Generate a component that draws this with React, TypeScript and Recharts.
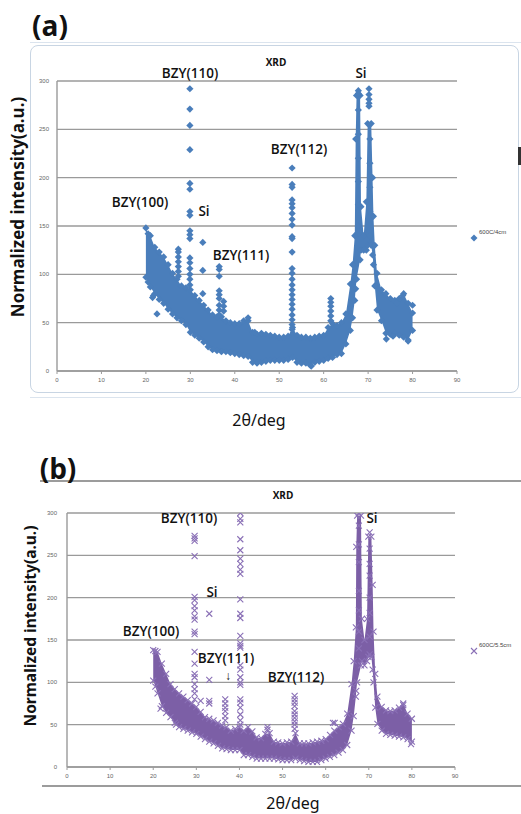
import { ComposedChart, Area, Scatter, XAxis, YAxis, CartesianGrid } from 'recharts';

const xTicks = [0, 10, 20, 30, 40, 50, 60, 70, 80, 90];
const yTicks = [0, 50, 100, 150, 200, 250, 300];

// (a) 600C/4cm — dense cloud read as [2θ, low, high]
const aBand: [number, number, number][] = [
  [20, 97, 148], [20.5, 92, 142], [21, 87, 140], [22, 80, 128], [23, 74, 123], [24, 70, 118],
  [25, 64, 110], [26, 59, 101], [27, 55, 95], [28, 52, 88], [29, 48, 86], [30, 40, 84],
  [31, 37, 78], [32, 34, 73], [33, 30, 68], [34, 25, 63], [35, 22, 58], [36, 21, 56],
  [37, 20, 56], [38, 20, 52], [39, 19, 50], [40, 18, 49], [41, 17, 49], [42, 16, 52],
  [43, 15, 52], [44, 9, 40], [45, 8, 38], [46, 9, 39], [47, 10, 38], [48, 11, 37],
  [49, 11, 36], [50, 11, 35], [51, 11, 35], [52, 12, 36], [53, 14, 45], [54, 9, 37],
  [55, 8, 35], [56, 8, 35], [57, 6, 34], [58, 9, 35], [59, 10, 36], [60, 11, 37],
  [61, 13, 45], [62, 14, 49], [63, 17, 47], [64, 18, 50], [65, 28, 59], [66, 42, 90],
  [66.5, 55, 110], [67, 73, 140], [67.2, 85, 240], [67.4, 95, 285], [68.2, 115, 285],
  [68.4, 125, 170], [69, 125, 140], [69.6, 125, 175], [69.9, 130, 256], [70.7, 130, 256],
  [71, 120, 200], [71.2, 110, 160], [71.5, 88, 130], [72, 63, 101],
  [73, 52, 84], [74, 39, 80], [75, 38, 75], [76, 39, 73], [77, 37, 75], [78, 35, 80],
  [79, 32, 70], [80, 42, 60],
];

// (a) peak columns: [2θ, intensities]
const aPeaks: [number, number[]][] = [
  [27.3, [126, 123, 118, 113, 108, 103, 98]],
  [29.9, [292, 271, 254, 229, 194, 188, 165, 161, 145, 141, 137, 117, 112, 106, 100, 95, 89]],
  [32.8, [133, 104, 80]],
  [36.5, [108, 105, 98, 83, 79, 75, 68, 63, 58]],
  [37.5, [72, 67, 62]],
  [52.9, [210, 193, 190, 177, 173, 169, 163, 157, 151, 139, 137, 123, 106, 101, 95, 89, 84, 79, 74, 69, 64, 58, 53, 48, 43]],
  [61.6, [75, 71, 67, 62, 57, 52]],
  [67.8, [290, 287, 270, 245, 220, 196, 172, 150]],
  [70.2, [292, 286, 281, 277, 274]],
  [70.4, [240, 215, 190, 165, 140]],
];

const aStray: [number, number][] = [
  [22.5, 59], [21.7, 78], [21.5, 76], [74.1, 33], [75.6, 36], [79, 31],
  [77.8, 78], [76.5, 70], [80, 68], [44.5, 40], [43, 55], [57.2, 5],
];

// (b) 600C/5.5cm
const bBand: [number, number, number][] = [
  [20, 102, 138], [20.5, 95, 137], [21, 87, 136], [22, 72, 122], [23, 64, 110], [24, 59, 98],
  [25, 52, 92], [26, 47, 87], [27, 45, 83], [28, 43, 79], [29, 41, 75], [30, 39, 71],
  [31, 36, 65], [32, 33, 59], [33, 30, 57], [34, 28, 55], [35, 25, 52], [36, 22, 49],
  [37, 21, 47], [38, 20, 43], [39, 20, 45], [40, 20, 47], [41, 14, 43], [42, 14, 47],
  [43, 12, 42], [44, 10, 35], [45, 10, 34], [46, 10, 39], [47, 10, 40], [48, 10, 30],
  [49, 9, 29], [50, 8, 28], [51, 8, 29], [52, 8, 30], [53, 10, 40], [54, 8, 28],
  [55, 7, 28], [56, 6, 28], [57, 6, 29], [58, 6, 30], [59, 8, 31], [60, 10, 33],
  [61, 12, 38], [62, 14, 43], [63, 17, 47], [64, 20, 51], [65, 26, 63], [66, 43, 98],
  [66.5, 60, 125], [67, 83, 165], [67.1, 90, 260], [67.3, 100, 297], [68.2, 120, 297],
  [68.4, 125, 175], [69, 120, 150], [69.6, 125, 175], [69.9, 130, 272], [70.6, 130, 272],
  [70.9, 115, 215], [71.1, 100, 160], [71.5, 70, 110], [72, 51, 83],
  [73, 43, 71], [74, 39, 67], [75, 38, 66], [76, 37, 67], [77, 36, 70], [78, 35, 75],
  [79, 33, 63], [80, 30, 57],
];

const bPeaks: [number, number[]][] = [
  [29.6, [273, 270, 267, 249, 201, 197, 190, 185, 178, 174, 160, 157, 136, 122, 110, 106, 98, 92, 87, 80]],
  [33.0, [181, 103, 78, 75]],
  [36.7, [80, 75, 70, 66, 60, 55]],
  [40.2, [300, 293, 289, 269, 256, 246, 240, 233, 228, 198, 181, 176, 155, 146, 143, 141, 120, 115, 106, 100, 97, 80, 76, 70, 62, 55, 50]],
  [46.5, [47, 44]],
  [52.8, [84, 80, 76, 72, 66, 62, 58, 54, 50, 45]],
  [61.7, [52]],
  [67.7, [300, 285, 263, 242, 208, 185, 160, 140]],
  [70.2, [277, 258, 240, 226, 200, 182, 154, 133]],
];

const bStray: [number, number][] = [
  [21.7, 69], [25.3, 50], [78, 73], [79.8, 27], [62.1, 52], [31, 78],
];

const BLUE = '#4a7ebb';
const PURPLE = '#7c5fa6';

const toRows = (band: [number, number, number][]) =>
  band.map(([x, lo, hi]) => ({ x, range: [lo, hi] }));
const toEdges = (band: [number, number, number][]) =>
  band.flatMap(([x, lo, hi]) => [{ x, y: lo }, { x, y: hi }]);
const toPoints = (peaks: [number, number[]][], stray: [number, number][]) => [
  ...peaks.flatMap(([x, ys]) => ys.map((y) => ({ x, y }))),
  ...stray.map(([x, y]) => ({ x, y })),
];

const Diamond = (p: any) => {
  const { cx, cy } = p;
  if (cx == null || cy == null) return <g />;
  const r = 3.6;
  return <path d={`M${cx},${cy - r}L${cx + r},${cy}L${cx},${cy + r}L${cx - r},${cy}Z`} fill={BLUE} />;
};

const Cross = (p: any) => {
  const { cx, cy } = p;
  if (cx == null || cy == null) return <g />;
  const r = 3;
  return (
    <path
      d={`M${cx - r},${cy - r}L${cx + r},${cy + r}M${cx - r},${cy + r}L${cx + r},${cy - r}`}
      stroke="#8a70b6"
      strokeWidth={1.1}
      fill="none"
    />
  );
};

const tickStyle = { fontSize: 6, fill: '#666', fontFamily: 'Liberation Sans' };

function XrdPanel({ band, peaks, stray, color, shape, width, height, margin, yTickGap }: any) {
  return (
    <ComposedChart width={width} height={height} data={toRows(band)} margin={margin}>
      <CartesianGrid horizontal vertical={false} stroke="#9a9a9a" strokeWidth={1.4} />
      <XAxis
        type="number"
        dataKey="x"
        domain={[0, 90]}
        ticks={xTicks}
        tick={tickStyle}
        height={20}
        tickSize={3}
        tickMargin={4}
        stroke="#9a9a9a"
        axisLine={{ stroke: '#9a9a9a', strokeWidth: 1.4 }}
      />
      <YAxis
        type="number"
        dataKey="y"
        domain={[0, 300]}
        ticks={yTicks}
        allowDataOverflow
        tick={tickStyle}
        width={30}
        tickLine={false}
        tickSize={3}
        tickMargin={yTickGap}
        axisLine={{ stroke: '#9a9a9a', strokeWidth: 1.4 }}
      />
      <Area
        type="linear"
        dataKey="range"
        stroke="none"
        fill={color}
        fillOpacity={1}
        isAnimationActive={false}
      />
      <Scatter data={toEdges(band)} shape={shape} isAnimationActive={false} />
      <Scatter data={toPoints(peaks, stray)} shape={shape} isAnimationActive={false} />
    </ComposedChart>
  );
}

const font = '"Open Sans", "Noto Sans", sans-serif';

function Txt({ x, y, size = 13.5, weight = 600, children, rotate = 0, family = font }: any) {
  return (
    <div
      style={{
        position: 'absolute',
        left: x,
        top: y,
        transform: `translate(-50%, -50%) rotate(${rotate}deg)`,
        fontFamily: family,
        fontSize: size,
        fontWeight: weight,
        whiteSpace: 'nowrap',
        lineHeight: 1,
        color: '#111',
      }}
    >
      {children}
    </div>
  );
}

export default function App() {
  return (
    <div style={{ position: 'absolute', left: 0, top: 0, width: 521, height: 814, background: '#fff', overflow: 'hidden' }}>
      {/* panel (a) */}
      <div style={{ position: 'absolute', left: 30, top: 42, width: 491, height: 1, background: '#dbe4ee' }} />
      <div style={{ position: 'absolute', left: 30, top: 397, width: 491, height: 1, background: '#dbe4ee' }} />
      <div
        style={{
          position: 'absolute', left: 30, top: 45, width: 487, height: 346,
          border: '1.5px solid #c8d5e3', borderRadius: 8,
        }}
      />
      <div style={{ position: 'absolute', left: 518, top: 147, width: 3, height: 18, background: '#333' }} />
      <div style={{ position: 'absolute', left: 0, top: 40 }}>
        <XrdPanel
          band={aBand} peaks={aPeaks} stray={aStray} color={BLUE} shape={Diamond}
          width={521} height={360} margin={{ top: 41, right: 64, bottom: 9, left: 27 }} yTickGap={5}
        />
      </div>
      <Txt x={50} y={25} size={28} weight={700}>(a)</Txt>
      <Txt x={276} y={62} size={10} weight={700}>XRD</Txt>
      <Txt x={190} y={74}>BZY(110)</Txt>
      <Txt x={361} y={74}>Si</Txt>
      <Txt x={299} y={150}>BZY(112)</Txt>
      <Txt x={140} y={203}>BZY(100)</Txt>
      <Txt x={204} y={212}>Si</Txt>
      <Txt x={241} y={256}>BZY(111)</Txt>
      <Txt x={17} y={207} size={17} weight={700} rotate={-90} family='"Noto Sans", sans-serif'>Normalized intensity(a.u.)</Txt>
      <Txt x={259} y={420} size={16} weight={400} family='"Noto Sans", sans-serif'>2θ/deg</Txt>
      <div style={{ position: 'absolute', left: 470, top: 228, width: 8, height: 8 }}>
        <svg width={8} height={8}><path d="M4,0.5L7.5,4L4,7.5L0.5,4Z" fill={BLUE} /></svg>
      </div>
      <div style={{ position: 'absolute', left: 479, top: 228, fontSize: 6, fontFamily: 'Liberation Sans', color: '#444', lineHeight: '8px' }}>600C/4cm</div>

      {/* panel (b) */}
      <div style={{ position: 'absolute', left: 40, top: 480, width: 481, height: 1.5, background: '#9c9c9c' }} />
      <div style={{ position: 'absolute', left: 42, top: 785, width: 479, height: 1.5, background: '#9c9c9c' }} />
      <div style={{ position: 'absolute', left: 0, top: 480 }}>
        <XrdPanel
          band={bBand} peaks={bPeaks} stray={bStray} color={PURPLE} shape={Cross}
          width={521} height={310} margin={{ top: 33, right: 66, bottom: 3, left: 37 }} yTickGap={7}
        />
      </div>
      <Txt x={58} y={468} size={28} weight={700}>(b)</Txt>
      <Txt x={283} y={495} size={10} weight={700}>XRD</Txt>
      <Txt x={189} y={519}>BZY(110)</Txt>
      <Txt x={372} y={519}>Si</Txt>
      <Txt x={212} y={593}>Si</Txt>
      <Txt x={151} y={632}>BZY(100)</Txt>
      <Txt x={226} y={659}>BZY(111)</Txt>
      <Txt x={228} y={676} size={12} weight={400}>↓</Txt>
      <Txt x={296} y={678}>BZY(112)</Txt>
      <Txt x={31} y={626} size={15.5} weight={700} rotate={-90} family='"Noto Sans", sans-serif'>Normalized intensity(a.u.)</Txt>
      <Txt x={293} y={803} size={16} weight={400} family='"Noto Sans", sans-serif'>2θ/deg</Txt>
      <div style={{ position: 'absolute', left: 470, top: 641, width: 8, height: 8 }}>
        <svg width={8} height={8}><path d="M1,1L7,7M1,7L7,1" stroke="#8a70b6" strokeWidth={1.1} /></svg>
      </div>
      <div style={{ position: 'absolute', left: 479, top: 641, fontSize: 6, fontFamily: 'Liberation Sans', color: '#444', lineHeight: '8px' }}>600C/5.5cm</div>
    </div>
  );
}
